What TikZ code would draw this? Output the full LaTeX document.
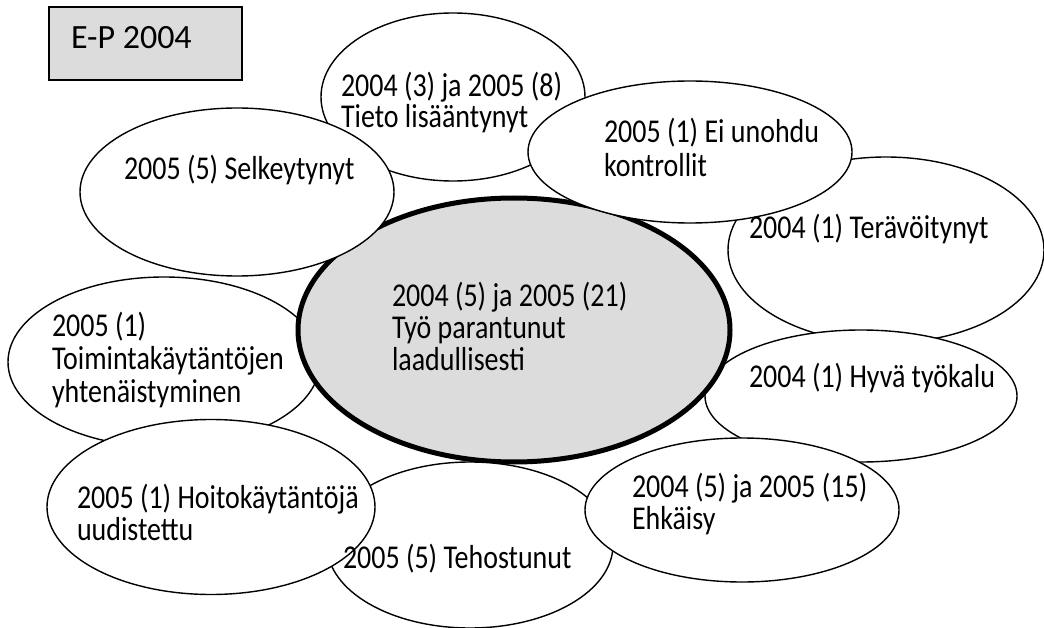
\documentclass[tikz,border=0pt]{standalone}
\usepackage{fontspec}
\setmainfont{Carlito}
\newfontfamily\lblfont{Carlito}[FakeStretch=0.84]
\usetikzlibrary{shapes.geometric}
\definecolor{boxgray}{RGB}{220,220,220}
\tikzset{
  bubble/.style={ellipse, draw=black, fill=white, line width=1.4pt, inner sep=0pt, outer sep=0pt},
  mainbubble/.style={ellipse, draw=black, fill=boxgray, line width=5pt, inner sep=0pt, outer sep=0pt},
  lbl/.style={anchor=base west, inner sep=0pt, outer sep=0pt, font=\lblfont\fontsize{33.3}{32}\selectfont},
  boxlbl/.style={anchor=base west, inner sep=0pt, outer sep=0pt, font=\fontsize{34}{36}\selectfont},
  titlebox/.style={draw=black, fill=boxgray, line width=1.5pt, inner sep=0pt, outer sep=0pt}
}
\begin{document}
\begin{tikzpicture}[x=1pt, y=-1pt]
\useasboundingbox (0,0) rectangle (1044,628);
% ellipses, back to front
\node[bubble, minimum width=312pt, minimum height=170pt] (toim) at (164,362) {};
\node[bubble, minimum width=264pt, minimum height=168pt] (tieto) at (453,97) {};
\node[bubble, minimum width=316pt, minimum height=186pt] (terav) at (886,250) {};
\node[bubble, minimum width=312pt, minimum height=132pt] (hyva) at (861,396) {};
\node[mainbubble, minimum width=432pt, minimum height=264pt] (main) at (514,330) {};
\node[bubble, minimum width=314pt, minimum height=168pt] (selk) at (237,192) {};
\node[bubble, minimum width=324pt, minimum height=142pt] (eiun) at (690,152) {};
\node[bubble, minimum width=286pt, minimum height=166pt] (teho) at (470,545) {};
\node[bubble, minimum width=328pt, minimum height=175pt] (hoito) at (211,507) {};
\node[bubble, minimum width=314pt, minimum height=144pt] (ehk) at (742,510) {};
% title box
\node[titlebox, minimum width=193pt, minimum height=73pt] (box) at (145.5,43.5) {};
% texts
\node[boxlbl] (tbox) at (71,49) {E-P 2004};
\node[lbl] (ttieto1) at (341,97) {2004 (3) ja 2005 (8)};
\node[lbl] (ttieto2) at (341,128) {Tieto lisääntynyt};
\node[lbl] (tselk) at (124,180) {2005 (5) Selkeytynyt};
\node[lbl] (teiun1) at (604,143) {2005 (1) Ei unohdu};
\node[lbl] (teiun2) at (604,177) {kontrollit};
\node[lbl] (tterav) at (749,239) {2004 (1) Terävöitynyt};
\node[lbl] (tmain1) at (392,306) {2004 (5) ja 2005 (21)};
\node[lbl] (tmain2) at (392,338) {Työ parantunut};
\node[lbl] (tmain3) at (392,370) {laadullisesti};
\node[lbl] (ttoim1) at (52,337) {2005 (1)};
\node[lbl] (ttoim2) at (52,369) {Toimintakäytäntöjen};
\node[lbl] (ttoim3) at (52,402) {yhtenäistyminen};
\node[lbl] (thyva) at (749,387) {2004 (1) Hyvä työkalu};
\node[lbl] (tehk1) at (632,497) {2004 (5) ja 2005 (15)};
\node[lbl] (tehk2) at (632,529) {Ehkäisy};
\node[lbl] (thoito1) at (77,508) {2005 (1) Hoitokäytäntöjä};
\node[lbl] (thoito2) at (77,540) {uudistettu};
\node[lbl] (tteho) at (343,568) {2005 (5) Tehostunut};
\end{tikzpicture}
\end{document}
